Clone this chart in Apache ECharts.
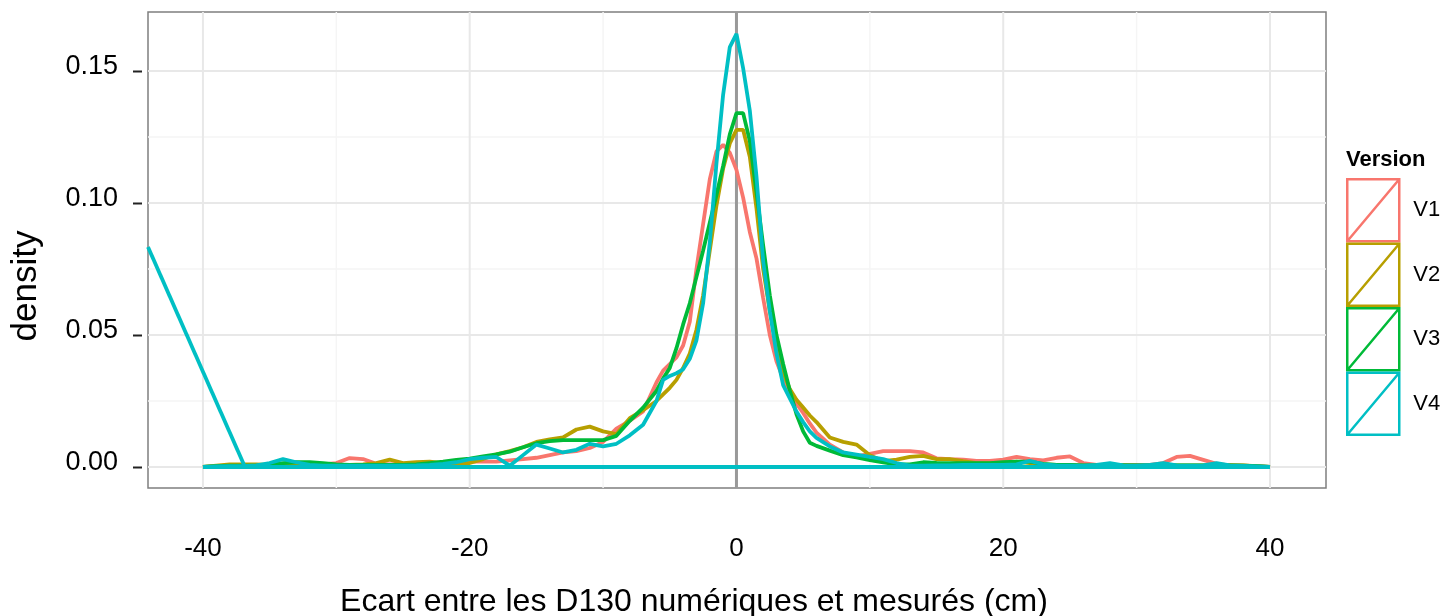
<!DOCTYPE html>
<html><head><meta charset="utf-8">
<script src="https://cdn.jsdelivr.net/npm/echarts@6/dist/echarts.min.js"></script>
<style>html,body{margin:0;padding:0;background:#fff}#c{width:1451px;height:616px}</style>
</head><body><div id="c"></div>
<script>
// ---- data ----
const xs = [-40,-39,-38,-37,-36,-35,-34,-33,-32,-31,-30,-29,-28,-27,-26,-25,-24,-23,-22,-21,-20,-19,-18,-17,-16,-15,-14,-13,-12,-11,-10,-9,-8,-7,-6,
  -5.5,-5,-4.5,-4,-3.5,-3,-2.5,-2,-1.5,-1,-0.5,0,0.5,1,1.5,2,2.5,3,3.5,4,4.5,5,5.5,
  6,7,8,9,10,11,12,13,14,15,16,17,18,19,20,21,22,23,24,25,26,27,28,29,30,31,32,33,34,35,36,37,38,39,40];
const v1 = [0,0.0003,0.0005,0.0005,0.0005,0.0006,0.0008,0.0008,0.001,0.001,0.0015,0.0034,0.003,0.0012,0.001,0.001,0.0008,0.001,0.0015,0.002,0.002,0.002,0.002,0.0025,0.003,0.0035,0.0045,0.0055,0.006,0.0072,0.0095,0.0145,0.0175,0.021,0.032,
  0.0365,0.039,0.0415,0.046,0.055,0.075,0.092,0.109,0.1195,0.122,0.119,0.1125,0.102,0.089,0.079,0.064,0.05,0.04,0.0335,0.0285,0.024,0.0205,0.0165,
  0.013,0.0085,0.0055,0.004,0.005,0.006,0.006,0.006,0.0055,0.0033,0.003,0.0028,0.0023,0.0023,0.0028,0.0038,0.003,0.0025,0.0035,0.004,0.0015,0.0008,0.0008,0.0008,0.0008,0.0008,0.0015,0.0038,0.0042,0.0027,0.0012,0.0006,0.0005,0.0003,0];
const v2 = [0,0.0005,0.001,0.001,0.001,0.0008,0.0006,0.0006,0.0006,0.0006,0.0006,0.0008,0.001,0.0015,0.0028,0.0015,0.0018,0.002,0.0015,0.0015,0.0015,0.003,0.0048,0.006,0.0075,0.0095,0.0105,0.0112,0.0142,0.0153,0.0135,0.0125,0.0185,0.0215,0.025,
  0.0275,0.03,0.033,0.0375,0.043,0.052,0.065,0.082,0.099,0.113,0.1225,0.1277,0.1277,0.1175,0.098,0.075,0.059,0.047,0.036,0.0295,0.0255,0.0225,0.0195,
  0.017,0.0112,0.0095,0.0085,0.0045,0.0022,0.0028,0.0038,0.0042,0.003,0.003,0.0022,0.0015,0.0015,0.0015,0.002,0.0015,0.001,0.0008,0.0008,0.0006,0.0006,0.0008,0.0008,0.0006,0.0006,0.0008,0.0006,0.0006,0.0006,0.0006,0.0008,0.0006,0.0003,0];
const v3 = [0,0.0003,0.0005,0.0005,0.0005,0.0008,0.0015,0.0018,0.0018,0.0015,0.001,0.0008,0.0008,0.0008,0.0008,0.0008,0.001,0.0015,0.002,0.0027,0.0032,0.004,0.0048,0.0058,0.0075,0.009,0.0098,0.0102,0.0102,0.0102,0.0102,0.0118,0.0175,0.0225,0.0288,
  0.0335,0.0375,0.045,0.054,0.062,0.072,0.082,0.0925,0.103,0.114,0.126,0.134,0.134,0.1235,0.104,0.084,0.065,0.05,0.039,0.029,0.02,0.0135,0.0092,
  0.008,0.0062,0.0045,0.0036,0.0026,0.0018,0.001,0.001,0.0018,0.0016,0.0015,0.0015,0.0015,0.0015,0.0018,0.002,0.002,0.0012,0.0008,0.0008,0.0006,0.0006,0.0006,0.0006,0.0006,0.0006,0.0006,0.0006,0.0006,0.0006,0.0006,0.0005,0.0005,0.0003,0];
const v4 = [0,0.0002,0.0003,0.0003,0.0006,0.0015,0.003,0.0018,0.0008,0.0005,0.0005,0.0005,0.0005,0.0005,0.0005,0.0005,0.0006,0.0008,0.0012,0.0018,0.003,0.0035,0.0038,0.0005,0.0045,0.0085,0.007,0.0055,0.0065,0.0088,0.0078,0.0088,0.012,0.016,0.025,
  0.033,0.0345,0.0355,0.037,0.041,0.048,0.062,0.085,0.115,0.141,0.159,0.164,0.151,0.135,0.11,0.078,0.059,0.043,0.031,0.026,0.021,0.017,0.0135,
  0.011,0.0078,0.0055,0.0047,0.0038,0.003,0.0015,0.0005,0.0005,0.0006,0.0006,0.0008,0.0008,0.0008,0.0008,0.001,0.0023,0.001,0.0006,0.0005,0.0005,0.0008,0.0015,0.0006,0.0005,0.0008,0.0015,0.0006,0.0005,0.0006,0.0015,0.0006,0.0004,0.0002,0];
const seriesNames = ['V1','V2','V3','V4'];
const seriesValues = [v1, v2, v3, v4];
const colors = ['#F8766D','#B79F00','#00BA38','#00BFC4'];
const xTicks = [-40,-20,0,20,40];
const xMinor = [-30,-10,10,30];
const yTicks = [0,0.05,0.10,0.15];
const yMinor = [0.025,0.075,0.125];
const vlineX = [0];
const tailX = [-44.12,-36.85];
const tailY = [0.0833,0];
const xRange = [-44.12, 44.2];
const yRange = [-0.00795, 0.1723];

// ---- chart ----
const FONT = 'Liberation Sans, Arial, sans-serif';
const LW = 3.8;
const series = [];
function vLine(x, color, width, z){
  series.push({type:'line', silent:true, symbol:'none', z:z, animation:false,
    data:[[x,yRange[0]],[x,yRange[1]]], lineStyle:{color:color,width:width}});
}
function hLine(y, color, width, z){
  series.push({type:'line', silent:true, symbol:'none', z:z, animation:false,
    data:[[xRange[0],y],[xRange[1],y]], lineStyle:{color:color,width:width}});
}
xMinor.forEach(v=>vLine(v,'#f5f5f5',1.5,1));
yMinor.forEach(v=>hLine(v,'#f5f5f5',1.5,1));
xTicks.forEach(v=>vLine(v,'#e8e8e8',2,1));
yTicks.forEach(v=>hLine(v,'#e8e8e8',2,1));
vlineX.forEach(v=>vLine(v,'#999999',3,2));
seriesNames.forEach((n,i)=>{
  const d = xs.map((x,j)=>[x, seriesValues[i][j]]);
  d.push([xs[0], 0]);
  series.push({name:n, type:'line', symbol:'none', z:3+i, animation:false,
    data:d, lineStyle:{color:colors[i], width:LW}, itemStyle:{color:colors[i]}});
});
series.push({type:'line', symbol:'none', z:7, silent:true, animation:false,
  data: tailX.map((x,j)=>[x, tailY[j]]), lineStyle:{color:colors[3], width:LW}});

const chart = echarts.init(document.getElementById('c'), null, {renderer:'canvas'});
chart.setOption({
  animation:false,
  textStyle:{fontFamily:FONT},
  title:[{text:'Version', left:1346, top:149, padding:0,
    textStyle:{fontFamily:FONT, fontWeight:'bold', fontSize:22, color:'#000'}}],
  legend:{
    data: seriesNames.map((n,i)=>({name:n, icon:'path://M0,0L52,0L52,62L0,62ZM0,62L52,0',
      itemStyle:{color:'rgba(0,0,0,0)', borderColor:colors[i], borderWidth:2.5}})),
    orient:'vertical', left:1346, top:178, padding:0, itemGap:0,
    itemWidth:52, itemHeight:62,
    textStyle:{fontFamily:FONT, fontSize:22, color:'#000', padding:[0,0,0,9]},
    selectedMode:false},
  grid:{left:148, top:12, width:1178, height:476, containLabel:false, outerBoundsMode:'none',
    show:true, borderColor:'#7f7f7f', borderWidth:1.5, backgroundColor:'#fff'},
  xAxis:{type:'value', min:xRange[0], max:xRange[1],
    axisLine:{show:false}, splitLine:{show:false},
    axisTick:{show:false, customValues:xTicks},
    axisLabel:{customValues:xTicks, margin:48, fontSize:26, color:'#000', fontFamily:FONT,
      formatter:v=>String(v)},
    name:'Ecart entre les D130 numériques et mesurés (cm)', nameLocation:'middle', nameGap:98,
    nameTextStyle:{fontSize:32, color:'#000', fontFamily:FONT, padding:[0,86,0,0]}},
  yAxis:{type:'value', min:yRange[0], max:yRange[1], offset:6,
    axisLine:{show:false}, splitLine:{show:false},
    axisTick:{show:false},
    axisLabel:{customValues:yTicks, margin:24, fontSize:27, color:'#000', fontFamily:FONT,
      formatter:v=>v.toFixed(2), verticalAlign:'bottom', lineHeight:8},
    name:'density', nameLocation:'middle', nameGap:98,
    nameTextStyle:{fontSize:35, color:'#000', fontFamily:FONT, padding:[0,72,0,0]}},
  series:series
});
// y-axis tick marks, placed through the y scale
const tickGraphics = yTicks.map(v => {
  const py = Math.round(chart.convertToPixel({yAxisIndex:0}, v)) + 0.5;
  return {type:'line', silent:true, z:10,
    shape:{x1:133, y1:py, x2:142, y2:py}, style:{stroke:'#222', lineWidth:2}};
});
chart.setOption({graphic: tickGraphics});
</script></body></html>
